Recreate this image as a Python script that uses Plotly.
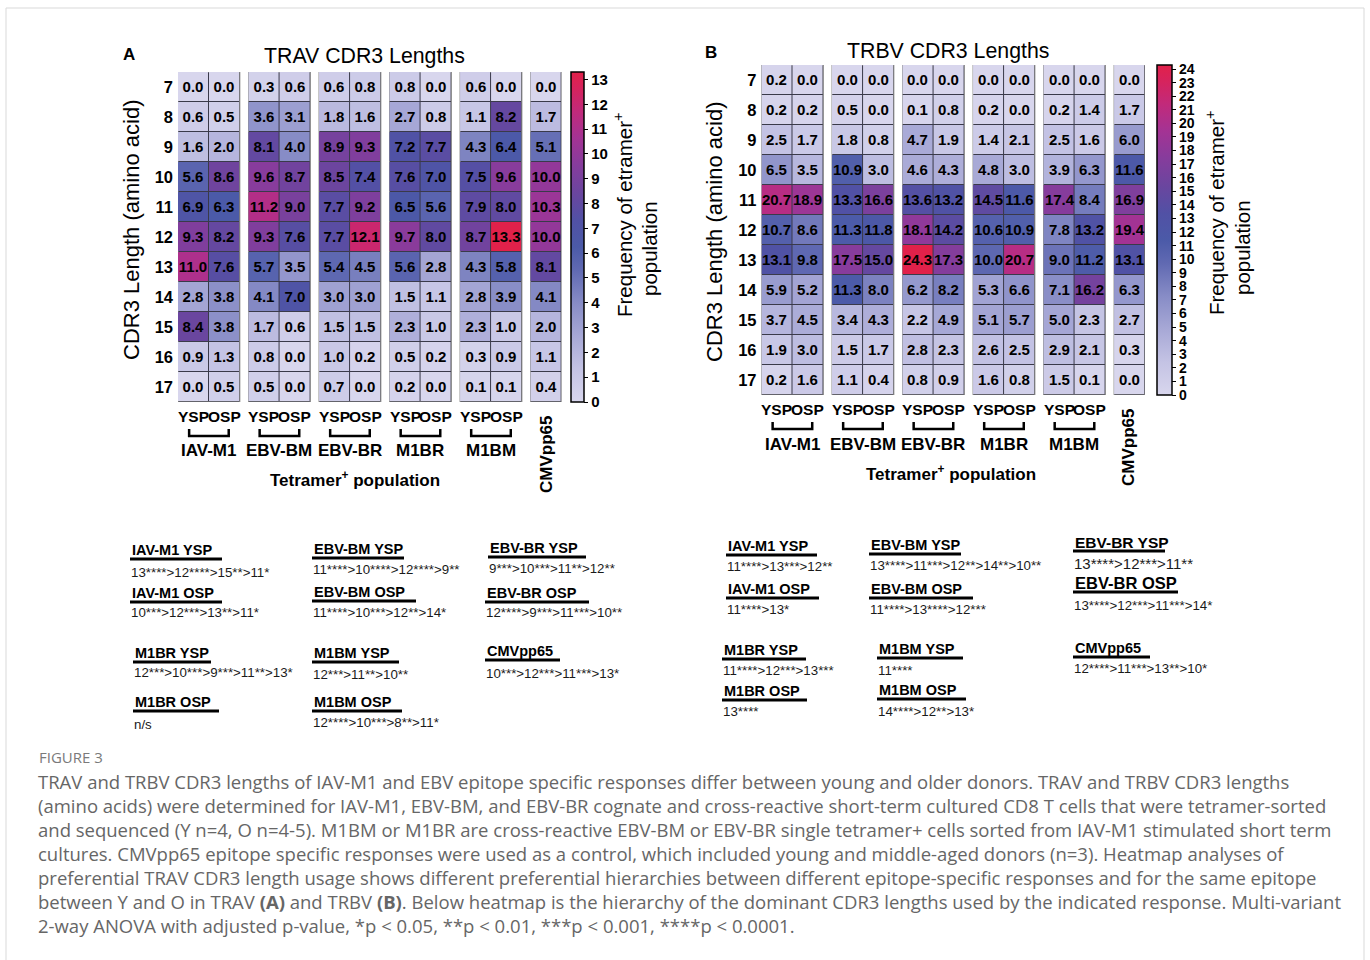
import plotly.graph_objects as go

W, H = 1370, 960


def px(x):
    return x / W


def py(y):
    return 1 - y / H


# ---------------------------------------------------------------- data
lengths = [7, 8, 9, 10, 11, 12, 13, 14, 15, 16, 17]
groups = ["IAV-M1", "EBV-BM", "EBV-BR", "M1BR", "M1BM"]
subsets = ["YSP", "OSP"]
control = "CMVpp65"

# TRAV CDR3 length usage (% of tetramer+ population), one list per group, CDR3 length 7..17
trav_ysp = [
    [0.0, 0.6, 1.6, 5.6, 6.9, 9.3, 11.0, 2.8, 8.4, 0.9, 0.0],   # IAV-M1
    [0.3, 3.6, 8.1, 9.6, 11.2, 9.3, 5.7, 4.1, 1.7, 0.8, 0.5],   # EBV-BM
    [0.6, 1.8, 8.9, 8.5, 7.7, 7.7, 5.4, 3.0, 1.5, 1.0, 0.7],    # EBV-BR
    [0.8, 2.7, 7.2, 7.6, 6.5, 9.7, 5.6, 1.5, 2.3, 0.5, 0.2],    # M1BR
    [0.6, 1.1, 4.3, 7.5, 7.9, 8.7, 4.3, 2.8, 2.3, 0.3, 0.1],    # M1BM
]
trav_osp = [
    [0.0, 0.5, 2.0, 8.6, 6.3, 8.2, 7.6, 3.8, 3.8, 1.3, 0.5],
    [0.6, 3.1, 4.0, 8.7, 9.0, 7.6, 3.5, 7.0, 0.6, 0.0, 0.0],
    [0.8, 1.6, 9.3, 7.4, 9.2, 12.1, 4.5, 3.0, 1.5, 0.2, 0.0],
    [0.0, 0.8, 7.7, 7.0, 5.6, 8.0, 2.8, 1.1, 1.0, 0.2, 0.0],
    [0.0, 8.2, 6.4, 9.6, 8.0, 13.3, 5.8, 3.9, 1.0, 0.9, 0.1],
]
trav_cmv = [0.0, 1.7, 5.1, 10.0, 10.3, 10.0, 8.1, 4.1, 2.0, 1.1, 0.4]

# TRBV CDR3 length usage
trbv_ysp = [
    [0.2, 0.2, 2.5, 6.5, 20.7, 10.7, 13.1, 5.9, 3.7, 1.9, 0.2],
    [0.0, 0.5, 1.8, 10.9, 13.3, 11.3, 17.5, 11.3, 3.4, 1.5, 1.1],
    [0.0, 0.1, 4.7, 4.6, 13.6, 18.1, 24.3, 6.2, 2.2, 2.8, 0.8],
    [0.0, 0.2, 1.4, 4.8, 14.5, 10.6, 10.0, 5.3, 5.1, 2.6, 1.6],
    [0.0, 0.2, 2.5, 3.9, 17.4, 7.8, 9.0, 7.1, 5.0, 2.9, 1.5],
]
trbv_osp = [
    [0.0, 0.2, 1.7, 3.5, 18.9, 8.6, 9.8, 5.2, 4.5, 3.0, 1.6],
    [0.0, 0.0, 0.8, 3.0, 16.6, 11.8, 15.0, 8.0, 4.3, 1.7, 0.4],
    [0.0, 0.8, 1.9, 4.3, 13.2, 14.2, 17.3, 8.2, 4.9, 2.3, 0.9],
    [0.0, 0.0, 2.1, 3.0, 11.6, 10.9, 20.7, 6.6, 5.7, 2.5, 0.8],
    [0.0, 1.4, 1.6, 6.3, 8.4, 13.2, 11.2, 16.2, 2.3, 2.1, 0.1],
]
trbv_cmv = [0.0, 1.7, 6.0, 11.6, 16.9, 19.4, 13.1, 6.3, 2.7, 0.3, 0.0]

trav_ticks = list(range(0, 14))
trbv_ticks = list(range(0, 25))

# Dominant CDR3 length hierarchies
hier_labels = ["IAV-M1 YSP", "IAV-M1 OSP", "M1BR YSP", "M1BR OSP",
               "EBV-BM YSP", "EBV-BM OSP", "M1BM YSP", "M1BM OSP",
               "EBV-BR YSP", "EBV-BR OSP", "CMVpp65"]
trav_hier = ["13****>12****>15**>11*", "10***>12***>13**>11*",
             "12***>10***>9***>11**>13*", "n/s",
             "11****>10****>12****>9**", "11****>10***>12**>14*",
             "12***>11**>10**", "12****>10***>8**>11*",
             "9***>10***>11**>12**", "12****>9***>11***>10**",
             "10***>12***>11***>13*"]
trbv_hier = ["11****>13***>12**", "11****>13*",
             "11****>12***>13***", "13****",
             "13****>11***>12**>14**>10**", "11****>13****>12***",
             "11****", "14****>12**>13*",
             "13****>12***>11**", "13****>12***>11***>14*",
             "12****>11***>13**>10*"]

caption_lines = [
    "TRAV and TRBV CDR3 lengths of IAV-M1 and EBV epitope specific responses differ between young and older donors. TRAV and TRBV CDR3 lengths",
    "(amino acids) were determined for IAV-M1, EBV-BM, and EBV-BR cognate and cross-reactive short-term cultured CD8 T cells that were tetramer-sorted",
    "and sequenced (Y n=4, O n=4-5). M1BM or M1BR are cross-reactive EBV-BM or EBV-BR single tetramer+ cells sorted from IAV-M1 stimulated short term",
    "cultures. CMVpp65 epitope specific responses were used as a control, which included young and middle-aged donors (n=3). Heatmap analyses of",
    "preferential TRAV CDR3 length usage shows different preferential hierarchies between different epitope-specific responses and for the same epitope",
    "between Y and O in TRAV <b>(A)</b> and TRBV <b>(B)</b>. Below heatmap is the hierarchy of the dominant CDR3 lengths used by the indicated response. Multi-variant",
    "2-way ANOVA with adjusted p-value, *p &lt; 0.05, **p &lt; 0.01, ***p &lt; 0.001, ****p &lt; 0.0001.",
]

# ---------------------------------------------------------------- style
FONT = "Liberation Sans, Arial, sans-serif"
CAP_FONT = "Open Sans, Noto Sans, sans-serif"
PITCH = 2.28  # distance between column groups, in cell widths

colorscale = [
    [0.00, "#d8d6ed"], [0.10, "#c4c3e4"], [0.20, "#a7a8d6"],
    [0.30, "#878cc6"], [0.40, "#6069b2"], [0.47, "#4b5aa8"],
    [0.55, "#5151a5"], [0.63, "#69469f"], [0.72, "#873c9c"],
    [0.80, "#a43394"], [0.88, "#c12a7b"], [0.95, "#d6235d"],
    [1.00, "#e1214a"],
]

fig = go.Figure()
shapes = []
annotations = []

panels = [
    dict(letter="A", title="TRAV CDR3 Lengths", xa="x", ya="y",
         ysp=trav_ysp, osp=trav_osp, cmv=trav_cmv, ticks=trav_ticks,
         xdom=(178, 561.5), ytop=72, ybot=402,
         letter_xy=(129, 54), title_xy=(364, 56),
         ytitle_x=131, ytitle_y=230,
         cb_x=571, cb_thick=13, cb_font=15,
         cbt1=(623, 215), cbt2=(649, 249),
         sub_y=416, br_top=429, br_bot=436, grp_y=451,
         tet_xy=(355, 479), cmv_xy=(547, 455),
         hier=trav_hier,
         hpos=[(130, 550, 572, 222), (130, 593, 612, 222), (133, 653, 672, 211), (133, 702, 724, 219),
               (312, 549, 569, 404), (312, 592, 612, 416), (312, 653, 674, 399), (312, 702, 722, 402),
               (488, 548, 568, 586), (485, 593, 612, 589), (485, 651, 673, 560)],
         hsize=[(14.5, 13.3)] * 11),
    dict(letter="B", title="TRBV CDR3 Lengths", xa="x2", ya="y2",
         ysp=trbv_ysp, osp=trbv_osp, cmv=trbv_cmv, ticks=trbv_ticks,
         xdom=(761.5, 1145), ytop=65, ybot=395,
         letter_xy=(711, 53), title_xy=(948, 51),
         ytitle_x=714, ytitle_y=232,
         cb_x=1157, cb_thick=15, cb_font=14,
         cbt1=(1215, 213), cbt2=(1243, 248),
         sub_y=409, br_top=422, br_bot=429, grp_y=444,
         tet_xy=(951, 473), cmv_xy=(1128, 448),
         hier=trbv_hier,
         hpos=[(726, 546, 566, 817), (726, 589, 609, 819), (722, 650, 670, 806), (722, 691, 711, 807),
               (869, 545, 565, 961), (869, 589, 609, 973), (877, 649, 670, 963), (877, 690, 711, 966),
               (1073, 542, 563, 1165), (1073, 583, 605, 1178), (1073, 648, 668, 1150)],
         hsize=[(14.5, 13.3)] * 8 + [(15.5, 15), (16.5, 13.3), (14.5, 13.3)]),
]

for p in panels:
    xa, ya = p["xa"], p["ya"]
    zmax = max(max(max(c) for c in p["ysp"]), max(max(c) for c in p["osp"]), max(p["cmv"]))
    columns = []
    for g in range(len(groups)):
        columns.append((g * PITCH, [list(r) for r in zip(p["ysp"][g], p["osp"][g])]))
    columns.append((len(groups) * PITCH, [[v] for v in p["cmv"]]))

    for i, (left, z) in enumerate(columns):
        ncol = len(z[0])
        fig.add_trace(go.Heatmap(
            z=z, x0=left + 0.5, dx=1, y0=lengths[0], dy=1,
            xaxis=xa, yaxis=ya,
            zmin=0, zmax=zmax, colorscale=colorscale,
            xgap=1, ygap=1,
            texttemplate="%{z:.1f}",
            textfont=dict(family=FONT, size=15, color="black", weight="bold"),
            hoverinfo="skip",
            showscale=(i == 0),
            colorbar=dict(
                x=px(p["cb_x"]), xanchor="left", xpad=0,
                y=py(p["ybot"]), yanchor="bottom", ypad=0,
                lenmode="pixels", len=p["ybot"] - p["ytop"],
                thicknessmode="pixels", thickness=p["cb_thick"],
                outlinewidth=1.5, outlinecolor="black",
                tickvals=p["ticks"], ticktext=[str(t) for t in p["ticks"]],
                ticks="outside", ticklen=4, tickwidth=1, tickcolor="black",
                tickfont=dict(family=FONT, size=p["cb_font"], color="black", weight="bold"),
            ),
        ))
        # dark cell borders with a grey frame round each group
        shapes.append(dict(type="rect", xref=xa, yref=ya, layer="below",
                           x0=left, x1=left + ncol, y0=lengths[0] - 0.5, y1=lengths[-1] + 0.5,
                           fillcolor="#3a3a4a", line=dict(color="#8c8c8c", width=1)))

        if i < len(groups):
            # YSP / OSP labels, bracket and group name
            for j, s in enumerate(subsets):
                annotations.append(dict(xref=xa, yref="paper", x=left + j + 0.5, y=py(p["sub_y"]),
                                        text=s, showarrow=False, xanchor="center", yanchor="middle",
                                        font=dict(family=FONT, size=15.5, color="black", weight="bold")))
            bx0, bx1 = left + 0.36, left + 1.64
            yt, yb = py(p["br_top"]), py(p["br_bot"])
            shapes.append(dict(type="path", xref=xa, yref="paper",
                               path=f"M {bx0},{yt} L {bx0},{yb} L {bx1},{yb} L {bx1},{yt}",
                               line=dict(color="black", width=2.5)))
            annotations.append(dict(xref=xa, yref="paper", x=left + 1, y=py(p["grp_y"]),
                                    text=groups[i], showarrow=False, xanchor="center", yanchor="middle",
                                    font=dict(family=FONT, size=17, color="black", weight="bold")))

    axis_x = "xaxis" if xa == "x" else "xaxis2"
    axis_y = "yaxis" if ya == "y" else "yaxis2"
    fig.update_layout(**{
        axis_x: dict(domain=[px(p["xdom"][0]), px(p["xdom"][1])], anchor=ya,
                     range=[0, len(groups) * PITCH + 1], visible=False),
        axis_y: dict(domain=[py(p["ybot"]), py(p["ytop"])], anchor=xa,
                     range=[lengths[-1] + 0.5, lengths[0] - 0.5],
                     tickvals=lengths, ticktext=[str(v) for v in lengths],
                     ticks="", showgrid=False, zeroline=False, showline=False,
                     ticklabelstandoff=4,
                     tickfont=dict(family=FONT, size=16.5, color="black", weight="bold")),
    })

    annotations += [
        dict(x=px(p["letter_xy"][0]), y=py(p["letter_xy"][1]), text=p["letter"],
             font=dict(family=FONT, size=17, color="black", weight="bold")),
        dict(x=px(p["title_xy"][0]), y=py(p["title_xy"][1]), text=p["title"],
             font=dict(family=FONT, size=21.3, color="black")),
        dict(x=px(p["ytitle_x"]), y=py(p["ytitle_y"]), text="CDR3 Length (amino acid)", textangle=-90,
             font=dict(family=FONT, size=22, color="black")),
        dict(x=px(p["cbt1"][0]), y=py(p["cbt1"][1]), text="Frequency of etramer<sup>+</sup>", textangle=-90,
             font=dict(family=FONT, size=20.5, color="black")),
        dict(x=px(p["cbt2"][0]), y=py(p["cbt2"][1]), text="population", textangle=-90,
             font=dict(family=FONT, size=20.5, color="black")),
        dict(x=px(p["tet_xy"][0]), y=py(p["tet_xy"][1]), text="Tetramer<sup>+</sup> population",
             font=dict(family=FONT, size=17, color="black", weight="bold")),
        dict(x=px(p["cmv_xy"][0]), y=py(p["cmv_xy"][1]), text=control, textangle=-90,
             font=dict(family=FONT, size=17, color="black", weight="bold")),
    ]

    # hierarchy of dominant CDR3 lengths below each heatmap
    for label, hier, (hx, hy, ty, ul), (hs, ts) in zip(hier_labels, p["hier"], p["hpos"], p["hsize"]):
        annotations.append(dict(x=px(hx), y=py(hy), text=label, xanchor="left",
                                font=dict(family=FONT, size=hs, color="black", weight="bold")))
        shapes.append(dict(type="line", xref="paper", yref="paper",
                           x0=px(hx), x1=px(ul), y0=py(hy + 9), y1=py(hy + 9),
                           line=dict(color="black", width=3)))
        annotations.append(dict(x=px(hx - 1), y=py(ty), text=hier, xanchor="left",
                                font=dict(family=FONT, size=ts, color="#1a1a1a")))

# caption
annotations.append(dict(x=px(37), y=py(757), text="FIGURE 3", xanchor="left",
                        font=dict(family=CAP_FONT, size=15, color="#7a7a7a")))
for k, line in enumerate(caption_lines):
    annotations.append(dict(x=px(36), y=py(781 + 24 * k), text=line, xanchor="left",
                            font=dict(family=CAP_FONT, size=18.5, color="#666666")))

for a in annotations:
    a.setdefault("xref", "paper")
    a.setdefault("yref", "paper")
    a.setdefault("showarrow", False)
    a.setdefault("xanchor", "center")
    a.setdefault("yanchor", "middle")

# page frame
shapes.append(dict(type="rect", xref="paper", yref="paper", layer="below",
                   x0=px(6), x1=px(1364), y0=-0.02, y1=py(8),
                   line=dict(color="#d9d9d9", width=1), fillcolor="rgba(0,0,0,0)"))

fig.update_layout(
    width=W, height=H, autosize=False,
    margin=dict(l=0, r=0, t=0, b=0),
    paper_bgcolor="white", plot_bgcolor="white",
    showlegend=False,
    shapes=shapes, annotations=annotations,
)

fig.write_html("out.html")
